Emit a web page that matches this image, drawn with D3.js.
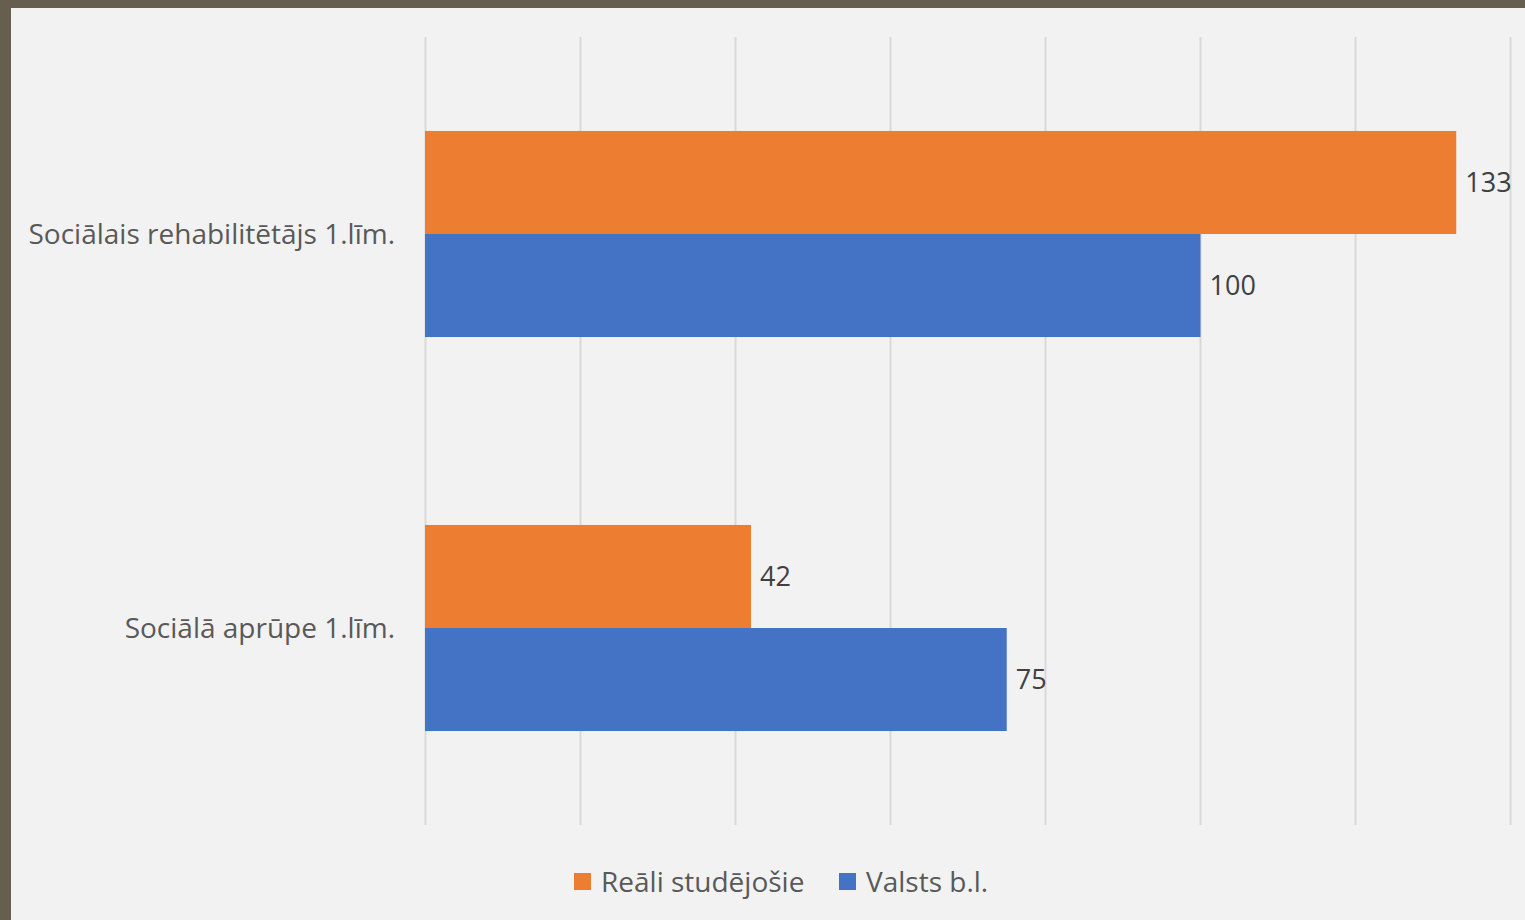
<!DOCTYPE html>
<html><head><meta charset="utf-8">
<script src="https://cdn.jsdelivr.net/npm/d3@7"></script>
<style>
html,body{margin:0;padding:0;background:#665e4e;}
svg{display:block;}
</style></head>
<body>
<svg id="chart" width="1525" height="920"></svg>
<script>
const categories = ["Sociālais rehabilitētājs 1.līm.", "Sociālā aprūpe 1.līm."];
const seriesNames = ["Reāli studējošie", "Valsts b.l."];
const realiStudejosie = [133, 42];
const valstsBL = [100, 75];
const xTicks = [0, 20, 40, 60, 80, 100, 120, 140];
const colors = ["#ed7d31", "#4472c4"];

const svg = d3.select("#chart");
const W = 1525, H = 920;
svg.append("rect").attr("x", 11).attr("y", 8).attr("width", W - 11).attr("height", H - 8).attr("fill", "#f2f2f2");

const font = "'Open Sans', sans-serif";
const x = d3.scaleLinear().domain([0, 140]).range([425.5, 1510.5]);
const y = d3.scaleBand().domain(categories).range([37, 825]).paddingInner(0.477).paddingOuter(0.2385);
const ySub = d3.scaleBand().domain(seriesNames).range([0, y.bandwidth()]);

// gridlines
svg.append("g").selectAll("line").data(xTicks).join("line")
  .attr("x1", d => x(d)).attr("x2", d => x(d))
  .attr("y1", 37).attr("y2", 825)
  .attr("stroke", "#d9d9d9").attr("stroke-width", 2);

const data = categories.map((c, i) => ({cat: c, vals: [realiStudejosie[i], valstsBL[i]]}));

const groups = svg.append("g").selectAll("g").data(data).join("g")
  .attr("transform", d => `translate(0,${y(d.cat)})`);

groups.selectAll("rect").data(d => d.vals.map((v, j) => ({v, s: seriesNames[j], j}))).join("rect")
  .attr("x", x(0) - 0.5).attr("y", d => ySub(d.s))
  .attr("width", d => x(d.v) - x(0) + 0.5).attr("height", ySub.bandwidth())
  .attr("fill", d => colors[d.j]);

groups.selectAll("text").data(d => d.vals.map((v, j) => ({v, s: seriesNames[j], j}))).join("text")
  .attr("x", d => x(d.v) + 9).attr("y", d => ySub(d.s) + ySub.bandwidth() / 2)
  .attr("dy", "0.35em")
  .attr("font-family", font).attr("font-size", 27).attr("fill", "#404040")
  .text(d => d.v);

// category labels
svg.append("g").selectAll("text").data(categories).join("text")
  .attr("x", 395).attr("y", d => y(d) + y.bandwidth() / 2)
  .attr("dy", "0.35em").attr("text-anchor", "end")
  .attr("font-family", font).attr("font-size", 28).attr("fill", "#595959")
  .text(d => d);

// legend
const legend = svg.append("g");
const legendItems = [{name: seriesNames[0], x: 574}, {name: seriesNames[1], x: 839}];
legendItems.forEach((it, i) => {
  legend.append("rect").attr("x", it.x).attr("y", 873).attr("width", 17).attr("height", 17).attr("fill", colors[i]);
  legend.append("text").attr("x", it.x + 27).attr("y", 882).attr("dy", "0.35em")
    .attr("font-family", font).attr("font-size", 28).attr("fill", "#595959").text(it.name);
});
</script>
</body></html>
